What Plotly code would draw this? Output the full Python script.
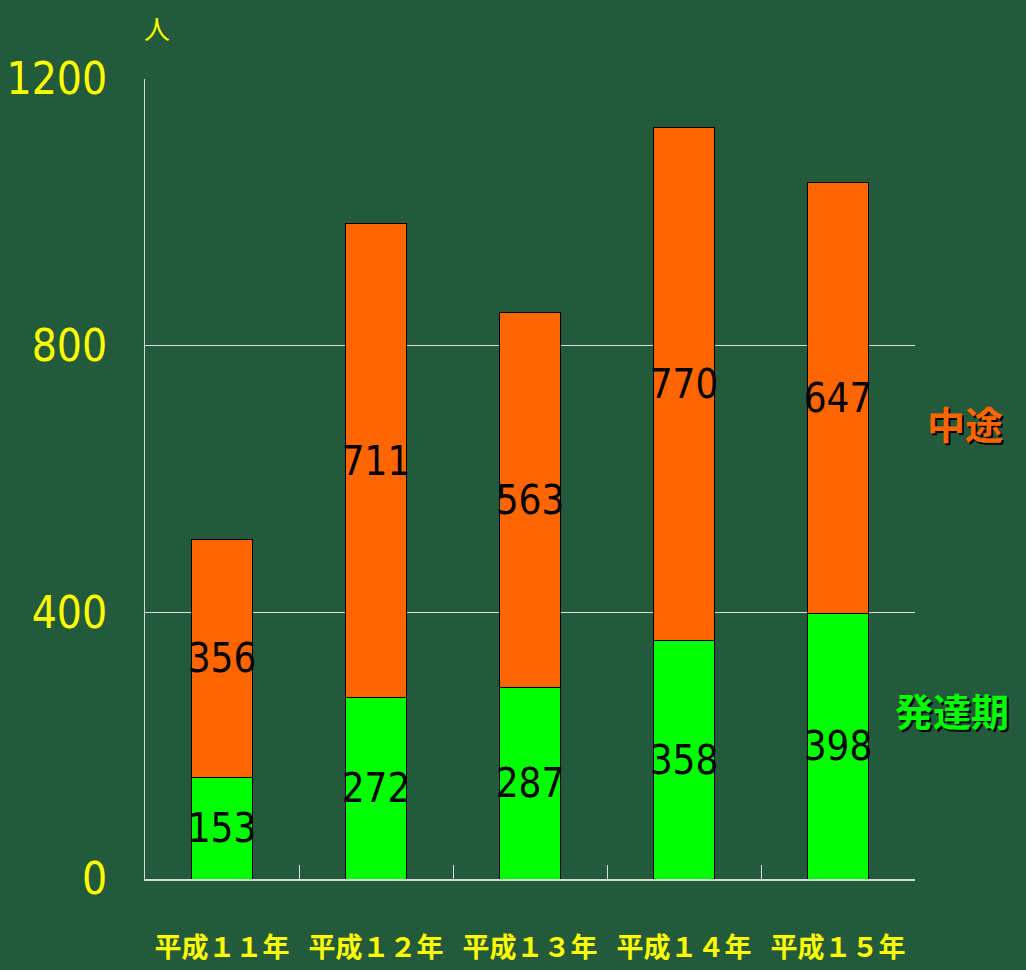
import plotly.graph_objects as go

categories = ["平成１１年", "平成１２年", "平成１３年", "平成１４年", "平成１５年"]
hattatsuki = [153, 272, 287, 358, 398]
chuto = [356, 711, 563, 770, 647]
y_ticks = [0, 400, 800, 1200]

NARROW = "Liberation Sans Narrow, DejaVu Sans Condensed, DejaVu Sans, sans-serif"
CJK = "Noto Sans CJK JP, sans-serif"

fig = go.Figure()
for vals, name, color in [(hattatsuki, "発達期", "#00ff00"), (chuto, "中途", "#ff6600")]:
    fig.add_trace(go.Bar(
        x=categories, y=vals, name=name,
        marker=dict(color=color, line=dict(color="#000000", width=1)),
        text=vals, textposition="inside", insidetextanchor="middle",
        constraintext="none", textangle=0,
        textfont=dict(family=NARROW, size=40, color="#000000"),
    ))

fig.update_layout(
    barmode="stack",
    bargap=0.6,
    showlegend=False,
    width=1026, height=970,
    margin=dict(l=145, r=111, t=79, b=91, autoexpand=False),
    paper_bgcolor="#235a3b",
    plot_bgcolor="rgba(0,0,0,0)",
    xaxis=dict(
        automargin=False,
        showline=True, linecolor="#d8d8d8", linewidth=2,
        ticks="inside", tickson="boundaries", ticklen=14, tickcolor="#d8d8d8", tickwidth=1,
        tickfont=dict(family=CJK, size=27, color="#ffff00", weight="bold"),
        tickangle=0,
        ticklabelstandoff=44,
        showgrid=False,
    ),
    yaxis=dict(
        automargin=False,
        range=[0, 1200], tickvals=y_ticks,
        showline=True, linecolor="#d8d8d8", linewidth=1,
        showgrid=True, gridcolor="#d8d8d8", gridwidth=1,
        zeroline=False,
        ticks="",
        tickfont=dict(family=NARROW, size=44, color="#ffff00"),
        ticklabelstandoff=28,
    ),
    annotations=[
        dict(text="人", xref="paper", yref="paper", x=0.0156, y=1.065,
             xanchor="center", yanchor="middle",
             showarrow=False, font=dict(family=CJK, size=26, color="#ffff00")),
        dict(text="中途", xref="paper", yref="paper", x=1.065, y=0.571,
             xanchor="center", yanchor="middle",
             showarrow=False,
             font=dict(family=CJK, size=38, color="#ff6600", weight="bold",
                       shadow="2px 2px 0px #000000")),
        dict(text="発達期", xref="paper", yref="paper", x=1.048, y=0.2125,
             xanchor="center", yanchor="middle",
             showarrow=False,
             font=dict(family=CJK, size=38, color="#00ff00", weight="bold",
                       shadow="2px 2px 0px #000000")),
    ],
)

fig.write_html("out.html")
